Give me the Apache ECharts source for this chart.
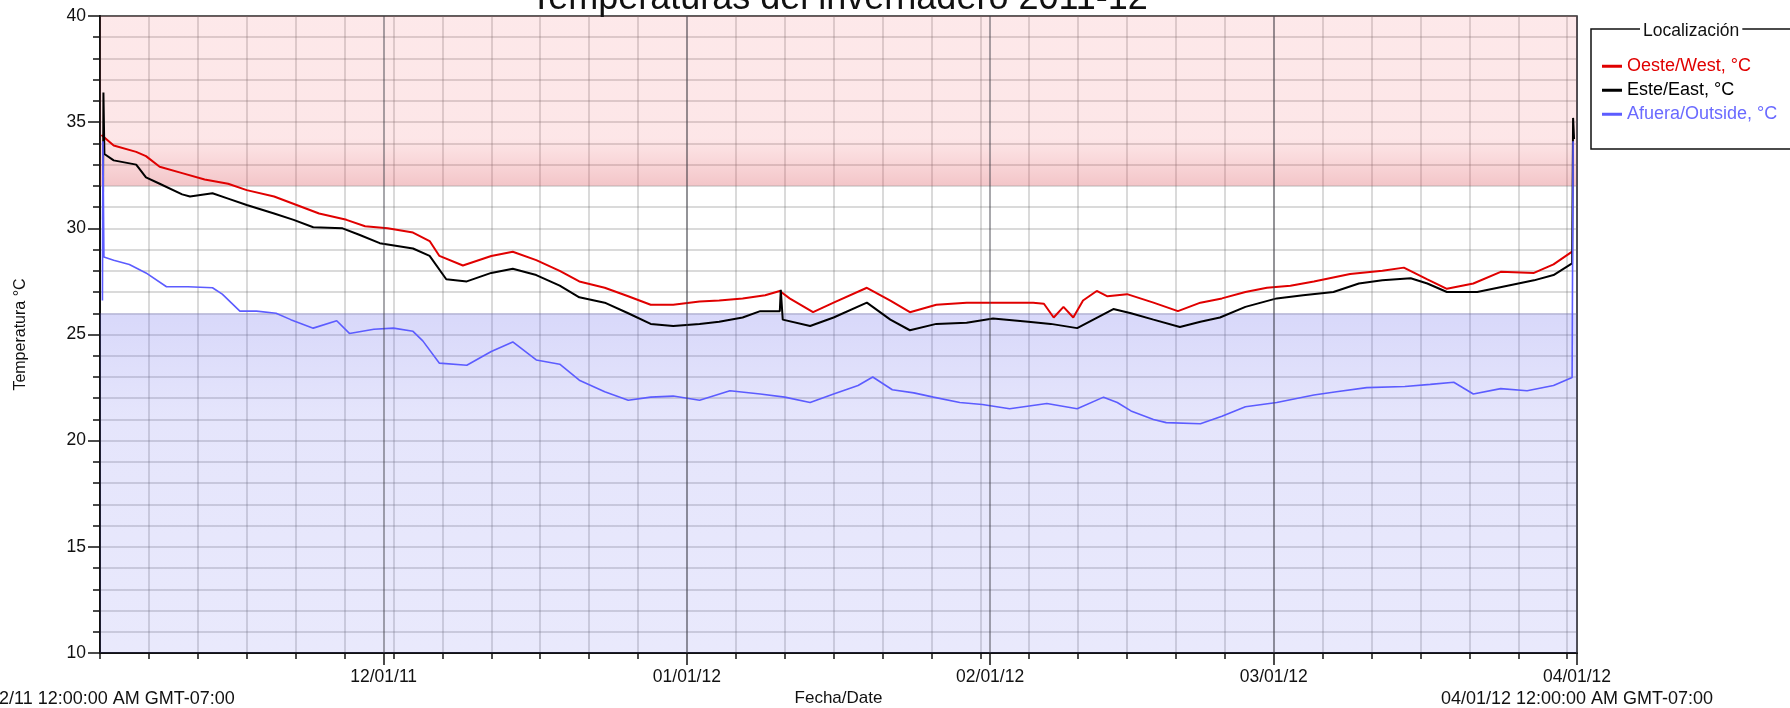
<!DOCTYPE html>
<html><head><meta charset="utf-8">
<script src="https://cdn.jsdelivr.net/npm/echarts@6/dist/echarts.min.js"></script>
<style>html,body{margin:0;padding:0;background:#fff}#c{width:1790px;height:708px}</style>
</head><body><div id="c"></div><script>
// days since 11/02/11 00:00 (GMT-07:00)
const dayW = [0.15,1.4,3.7,4.7,6.1,8.4,10.7,13.1,15.0,17.8,20.1,22.4,25.2,27.1,29.4,32.0,33.7,34.7,37.1,40.0,42.2,44.6,47.0,49.0,51.6,54.0,56.3,58.6,61.3,63.3,65.7,68.0,69.5,70.5,72.9,75.0,78.4,80.8,82.8,85.5,88.6,92.0,95.4,96.5,97.5,98.5,99.5,100.5,101.9,103.0,105.0,107.7,110.2,112.5,114.7,117.1,119.3,121.7,124.1,127.8,131.1,133.3,135.7,137.7,140.4,143.2,146.6,148.6,150.5];
const tempW = [34.4,33.9,33.6,33.4,32.9,32.6,32.3,32.1,31.8,31.5,31.1,30.7,30.4,30.1,30.0,29.8,29.4,28.7,28.25,28.7,28.9,28.5,28.0,27.5,27.2,26.8,26.4,26.4,26.55,26.6,26.7,26.85,27.05,26.7,26.05,26.5,27.2,26.6,26.05,26.4,26.5,26.5,26.5,26.45,25.8,26.3,25.8,26.6,27.05,26.8,26.9,26.5,26.1,26.5,26.7,27.0,27.2,27.3,27.5,27.85,28.0,28.15,27.6,27.15,27.4,27.95,27.9,28.3,28.9];

const dayE = [0.3,0.35,0.45,1.4,3.7,4.7,6.1,8.4,9.2,11.5,13.1,15.0,17.8,19.8,21.8,24.8,26.5,28.6,32.0,33.7,35.4,37.5,40.0,42.2,44.6,47.0,49.0,51.6,54.0,56.3,58.6,61.3,63.3,65.7,67.5,69.5,69.6,69.8,72.6,75.0,78.4,80.8,82.8,85.5,88.6,91.3,94.9,97.2,99.9,103.6,105.4,107.7,110.4,112.5,114.5,117.1,120.3,123.0,126.1,128.7,131.1,134.0,135.7,137.7,140.8,143.9,146.6,148.6,150.5,150.6,150.7];
const tempE = [30.4,36.4,33.5,33.2,33.0,32.4,32.1,31.6,31.5,31.65,31.4,31.1,30.7,30.4,30.05,30.0,29.7,29.3,29.05,28.7,27.6,27.5,27.9,28.1,27.8,27.3,26.75,26.5,26.0,25.5,25.4,25.5,25.6,25.8,26.1,26.1,27.1,25.7,25.4,25.8,26.5,25.7,25.2,25.5,25.55,25.75,25.6,25.5,25.3,26.2,26.0,25.7,25.35,25.6,25.8,26.3,26.7,26.85,27.0,27.4,27.55,27.65,27.4,27.0,27.0,27.3,27.55,27.8,28.35,35.2,34.2];

const dayO = [0.25,0.3,0.4,1.4,3.0,4.7,6.8,9.0,11.5,12.5,14.3,16.0,18.0,19.5,21.8,24.2,25.5,28.0,30.0,32.0,33.0,34.7,37.5,40.0,42.2,44.6,47.0,49.0,51.6,54.0,56.3,58.6,61.3,64.4,67.5,70.0,72.6,75.0,77.5,79.0,81.0,83.2,85.2,87.9,90.2,93.0,96.8,99.9,102.6,104.0,105.4,107.7,109.0,112.5,114.7,117.1,120.3,124.1,126.4,129.5,133.4,136.0,138.4,140.4,143.2,145.9,148.6,150.5,150.6];
const tempO = [26.6,34.1,28.65,28.5,28.3,27.9,27.25,27.25,27.2,26.9,26.1,26.1,26.0,25.7,25.3,25.65,25.05,25.25,25.3,25.15,24.7,23.65,23.55,24.2,24.65,23.8,23.6,22.85,22.3,21.9,22.05,22.1,21.9,22.35,22.2,22.05,21.8,22.2,22.6,23.0,22.4,22.25,22.05,21.8,21.7,21.5,21.75,21.5,22.05,21.8,21.4,21.0,20.85,20.8,21.15,21.6,21.8,22.15,22.3,22.5,22.55,22.65,22.75,22.2,22.45,22.35,22.6,22.98,34.1];

const monthDays = [29, 60, 91, 120, 151];
const monthLabels = ['12/01/11', '01/01/12', '02/01/12', '03/01/12', '04/01/12'];
const endDays = [0, 151];
const endLabels = ['11/02/11 12:00:00 AM GMT-07:00', '04/01/12 12:00:00 AM GMT-07:00'];
const hotBand = [32, 40];
const coldBand = [10, 26];
const seriesNames = ['Oeste/West, °C', 'Este/East, °C', 'Afuera/Outside, °C'];
const seriesColors = ['#e00000', '#000000', '#5c5cff'];
const legendTextColors = ['#e00000', '#000000', '#6a6aff'];

const FONT = 'Liberation Sans, Arial, sans-serif';
const zip = (d, v) => d.map((x, i) => [x, v[i]]);
const chart = echarts.init(document.getElementById('c'));

const gridLine = {show: true, lineStyle: {color: 'rgba(110,110,110,0.34)', width: 1.5}};
const baseX = {type: 'value', min: 0, max: 151, position: 'bottom', gridIndex: 0};

chart.setOption({
  animation: false,
  backgroundColor: '#fff',
  grid: {left: 100, right: 213, top: 16, bottom: 55, outerBoundsMode: 'none', containLabel: false,
    show: true, borderColor: '#222', borderWidth: 1.5, backgroundColor: 'transparent'},
  xAxis: [
    Object.assign({}, baseX, {
      interval: 5,
      axisLine: {show: true, lineStyle: {color: '#111', width: 2}},
      axisTick: {show: true, length: 6, lineStyle: {color: '#111', width: 1.5}},
      axisLabel: {show: false},
      splitLine: gridLine,
      name: 'Fecha/Date', nameLocation: 'middle', nameGap: 37,
      nameTextStyle: {fontSize: 17, color: '#111', fontFamily: FONT}
    }),
    Object.assign({}, baseX, {
      axisLine: {show: false},
      axisTick: {show: true, length: 12, customValues: monthDays, lineStyle: {color: '#111', width: 1.5}},
      axisLabel: {show: true, customValues: monthDays, margin: 15, fontSize: 17.5, color: '#111', fontFamily: FONT,
        showMinLabel: true, showMaxLabel: true,
        formatter: v => monthLabels[monthDays.indexOf(v)] || ''},
      splitLine: {show: false}
    }),
    Object.assign({}, baseX, {
      axisLine: {show: false},
      axisTick: {show: false},
      axisLabel: {show: true, customValues: endDays, margin: 37, fontSize: 18, color: '#111', fontFamily: FONT,
        showMinLabel: true, showMaxLabel: true,
        formatter: v => endLabels[endDays.indexOf(v)] || ''},
      splitLine: {show: false}
    })
  ],
  yAxis: {
    type: 'value', min: 10, max: 40, interval: 5,
    axisLine: {show: true, lineStyle: {color: '#111', width: 2}},
    axisTick: {show: true, length: 12, lineStyle: {color: '#111', width: 1.5}},
    minorTick: {show: true, splitNumber: 5, length: 7, lineStyle: {color: '#111', width: 1.5}},
    axisLabel: {fontSize: 17.5, color: '#111', margin: 14, fontFamily: FONT},
    splitLine: gridLine,
    minorSplitLine: gridLine,
    name: 'Temperatura °C', nameLocation: 'middle', nameRotate: 90, nameGap: 71,
    nameTextStyle: {fontSize: 16, color: '#111', fontFamily: FONT}
  },
  legend: {
    orient: 'vertical', left: 1597, top: 51, padding: 5, icon: 'rect', itemWidth: 20, itemHeight: 3, itemGap: 3.5,
    selectedMode: false,
    textStyle: {fontSize: 18, fontFamily: FONT, lineHeight: 20.5},
    data: seriesNames.map((n, i) => ({name: n, textStyle: {color: legendTextColors[i]}}))
  },
  graphic: [
    {type: 'rect', z: 1, shape: {x: 1591, y: 29, width: 260, height: 120}, style: {fill: '#fff', stroke: '#111', lineWidth: 1.5}},
    {type: 'text', z: 2, x: 1640, y: 31, style: {text: 'Localización', fontSize: 17.5, fontFamily: FONT, fill: '#111', verticalAlign: 'middle', backgroundColor: '#fff', padding: [0, 3]}},
    {type: 'text', z: 2, x: 839, y: -1, style: {text: 'Temperaturas del invernadero 2011-12', fontSize: 36, fontFamily: FONT, fill: '#111', align: 'center', verticalAlign: 'middle'}}
  ],
  series: [
    {
      name: 'bands', type: 'line', data: [], z: 1, silent: true, xAxisIndex: 0,
      markArea: {silent: true, data: [
        [{yAxis: hotBand[0], itemStyle: {color: new echarts.graphic.LinearGradient(0, 0, 0, 1, [
          {offset: 0, color: 'rgba(240,80,90,0.13)'},
          {offset: 0.72, color: 'rgba(240,80,90,0.14)'},
          {offset: 1, color: 'rgba(215,65,75,0.30)'}])}}, {yAxis: hotBand[1]}],
        [{yAxis: coldBand[0], itemStyle: {color: new echarts.graphic.LinearGradient(0, 1, 0, 0, [
          {offset: 0, color: 'rgba(100,100,235,0.14)'},
          {offset: 0.7, color: 'rgba(100,100,235,0.17)'},
          {offset: 1, color: 'rgba(100,100,235,0.25)'}])}}, {yAxis: coldBand[1]}]
      ]},
      markLine: {silent: true, symbol: ['none', 'none'], label: {show: false},
        lineStyle: {color: 'rgba(60,60,70,0.6)', width: 1.5, type: 'solid'},
        data: monthDays.map(d => ({xAxis: d}))}
    },
    {name: seriesNames[0], type: 'line', data: zip(dayW, tempW), showSymbol: false, lineStyle: {color: seriesColors[0], width: 2}, itemStyle: {color: seriesColors[0]}},
    {name: seriesNames[1], type: 'line', data: zip(dayE, tempE), showSymbol: false, lineStyle: {color: seriesColors[1], width: 2}, itemStyle: {color: seriesColors[1]}},
    {name: seriesNames[2], type: 'line', data: zip(dayO, tempO), showSymbol: false, lineStyle: {color: seriesColors[2], width: 1.6}, itemStyle: {color: seriesColors[2]}}
  ]
});
</script></body></html>
